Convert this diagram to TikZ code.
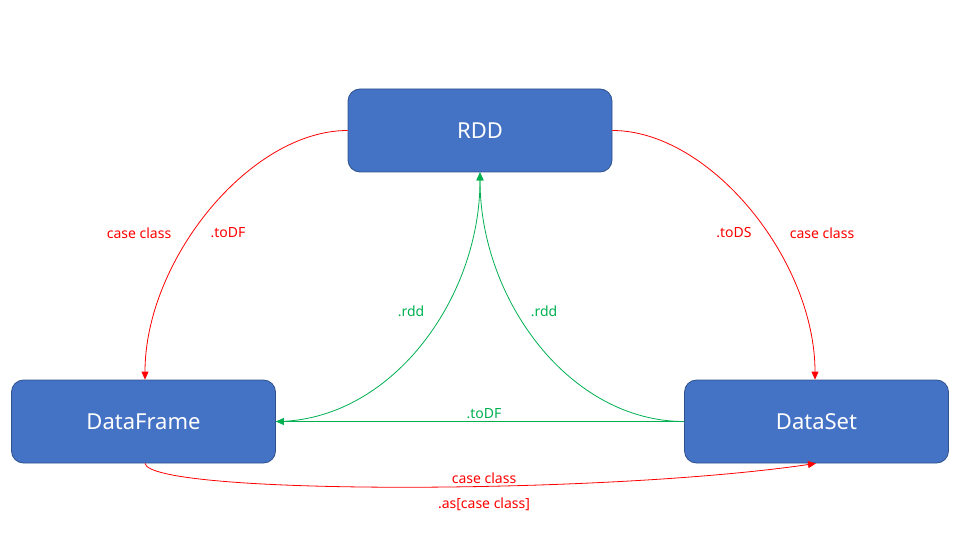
\documentclass[tikz,border=0pt]{standalone}
\usepackage{fontspec}
\setmainfont{Noto Sans}
\usetikzlibrary{arrows.meta}
\definecolor{boxfill}{HTML}{4472C4}
\definecolor{boxline}{HTML}{2F528F}
\definecolor{redline}{HTML}{FF0000}
\definecolor{greenline}{HTML}{00B050}
\begin{document}
\begin{tikzpicture}[x=1pt,y=-1pt,
  box/.style={draw=boxline,line width=0.8pt,fill=boxfill,rounded corners=12pt,
    minimum width=264pt,minimum height=83pt,inner sep=0pt,text=white,
    font=\fontsize{22}{25}\selectfont},
  redarrow/.style={draw=redline,line width=0.8pt,-{Triangle[length=8pt,width=7pt]}},
  greenarrow/.style={draw=greenline,line width=0.8pt,-{Triangle[length=8pt,width=7pt]}},
  redlbl/.style={text=redline,font=\fontsize{14}{16}\selectfont,inner sep=1pt},
  greenlbl/.style={text=greenline,font=\fontsize{14}{16}\selectfont,inner sep=1pt}]
\useasboundingbox (0,0) rectangle (960,540);
\node[box] (rdd) at (480,130.5) {RDD};
\node[box] (df) at (143.5,421.5) {DataFrame};
\node[box] (ds) at (816.5,421.5) {DataSet};
% red curves
\draw[redarrow] (rdd.west) .. controls (250,130.5) and (145,260) .. (df.north -| 145,0);
\draw[redarrow] (rdd.east) .. controls (710,130.5) and (815,260) .. (ds.north -| 815,0);
% green curves
\draw[greenarrow] (ds.west) .. controls (570,421.5) and (480,300) .. (rdd.south);
\draw[greenarrow] (df.east) .. controls (390,421.5) and (480,300) .. (rdd.south);
\draw[greenarrow] (ds.west) -- (df.east);
% bottom red curve
\draw[redarrow] (df.south -| 145,0) .. controls (150,495) and (600,495) .. (ds.south -| 816,0);
% labels
\node[redlbl] (l1) at (139,233) {case class};
\node[redlbl] (l2) at (228,233) {.toDF};
\node[redlbl] (l3) at (734,233) {.toDS};
\node[redlbl] (l4) at (822,233) {case class};
\node[greenlbl] (l5) at (411,311.5) {.rdd};
\node[greenlbl] (l6) at (544,311.5) {.rdd};
\node[greenlbl] (l7) at (484,414) {.toDF};
\node[redlbl] (l8) at (484,478) {case class};
\node[redlbl] (l9) at (484,504) {.as[case class]};
\end{tikzpicture}
\end{document}
